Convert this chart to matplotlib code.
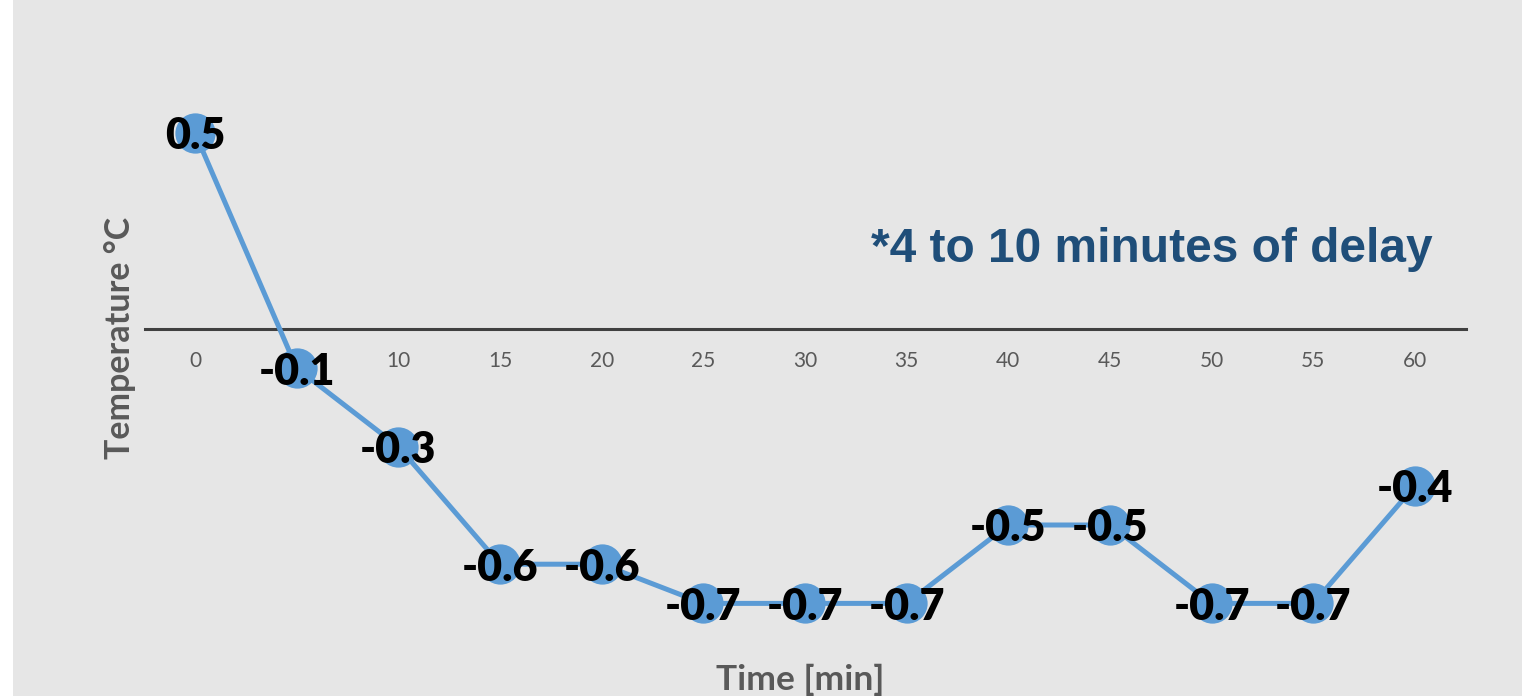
import matplotlib
matplotlib.use("Agg")
import matplotlib.pyplot as plt
from matplotlib.patches import Rectangle

times = [0, 5, 10, 15, 20, 25, 30, 35, 40, 45, 50, 55, 60]
temps = [0.5, -0.1, -0.3, -0.6, -0.6, -0.7, -0.7, -0.7, -0.5, -0.5, -0.7, -0.7, -0.4]
tick_labels = [str(t) for t in times]

W, H = 1522, 696
fig = plt.figure(figsize=(W / 100, H / 100), dpi=100, facecolor="white")
fig.patches.append(Rectangle((13 / W, 0), 1 - 13 / W, 1, transform=fig.transFigure,
                             facecolor="#e6e6e6", edgecolor="none", zorder=-10))

left, right = 145, 1466
top, bottom = 20, 650
ax = fig.add_axes([left / W, 1 - bottom / H, (right - left) / W, (bottom - top) / H])
ax.set_facecolor("none")

pxu = (1415 - 195) / 60.0
ax.set_xlim(-(195 - left) / pxu, 60 + (right - 1415) / pxu)
ppy = 392.0
ax.set_ylim(-(bottom - 329) / ppy, (329 - top) / ppy)

ax.plot(times, temps, color="#5b9bd5", lw=3.6, marker="o", ms=29,
        markeredgewidth=0, zorder=3, solid_capstyle="round")

for t, v in zip(times, temps):
    ax.annotate(f"{v:g}", (t, v), xytext=(0, -2.5), textcoords="offset points",
                ha="center", va="center", fontsize=31,
                fontweight="heavy", family="Lato", color="black", zorder=5)

for s in ["top", "left", "right"]:
    ax.spines[s].set_visible(False)
ax.spines["bottom"].set_position(("data", 0))
ax.spines["bottom"].set_color("#404040")
ax.spines["bottom"].set_linewidth(2.2)
ax.spines["bottom"].set_zorder(2)
ax.set_yticks([])
ax.set_xticks(times)
ax.set_xticklabels(tick_labels, family="Lato", fontsize=15, color="#595959")
ax.tick_params(axis="x", length=0, pad=16)

fig.text(1152 / W, 1 - 249 / H, "*4 to 10 minutes of delay", ha="center", va="center",
         fontsize=34.5, fontweight="bold", family="Liberation Sans", color="#1f4e79")
fig.text(800 / W, 1 - 680 / H, "Time [min]", ha="center", va="center",
         fontsize=25.5, fontweight="bold", family="Lato", color="#595959")
fig.text(120 / W, 1 - 338 / H, "Temperature °C", ha="center", va="center", rotation=90,
         fontsize=24.5, fontweight="bold", family="Lato", color="#595959")

fig.savefig("out.png", dpi=100, facecolor="white")
